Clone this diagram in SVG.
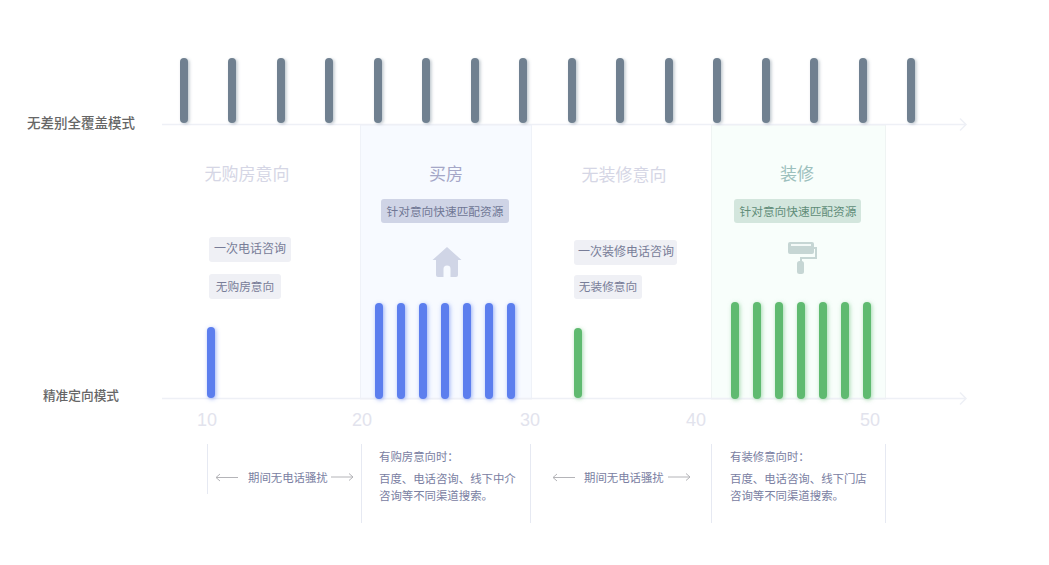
<svg xmlns="http://www.w3.org/2000/svg" width="1049" height="565" viewBox="0 0 1049 565">
<style>
text{font-family:"Liberation Sans","Noto Sans CJK SC",sans-serif}
.cjk{font-family:"Noto Sans CJK SC","Liberation Sans",sans-serif}
.axis{stroke:#eef0f6;stroke-width:1.5;fill:none}
.sep{stroke:#e6e9f2;stroke-width:1;fill:none}
.lab{font-weight:500;fill:#666;text-anchor:middle}
.h{font-size:17px;text-anchor:middle}
.tag{font-size:12px;text-anchor:middle}
.tag2{font-size:11.7px;text-anchor:middle}
.num{font-size:18px;fill:#e2e3ed;text-anchor:middle}
.note{font-size:11.4px;fill:#7a80a2}
.g{fill:#6f8090;filter:url(#sg)}
.b{fill:#5b7eee;filter:url(#sb)}
.n{fill:#5fba70;filter:url(#sn)}
.arr{stroke:#b4b4b8;stroke-width:1;fill:none}
</style>
<defs>
<filter id="sg" x="-100%" y="-10%" width="300%" height="120%"><feDropShadow dx="1.5" dy="1" stdDeviation="1.5" flood-color="#6f8090" flood-opacity=".45"/></filter>
<filter id="sb" x="-100%" y="-10%" width="300%" height="120%"><feDropShadow dx="1" dy="1" stdDeviation="2.200" flood-color="#5b7eee" flood-opacity=".6"/></filter>
<filter id="sn" x="-100%" y="-10%" width="300%" height="120%"><feDropShadow dx="1" dy="1" stdDeviation="2.200" flood-color="#5fba70" flood-opacity=".55"/></filter>
</defs>
<rect width="1049" height="565" fill="#fff"/>
<g id="band-buy"><rect x="360.500" y="125" width="171" height="274" fill="#f7faff" stroke="#eff2f8"/></g>
<g id="band-reno"><rect x="711.500" y="125" width="174" height="274" fill="#f8fefb" stroke="#eff4f3"/></g>
<g id="connectors">
<path class="axis" d="M162 124.500H966M960 118.500l6 6-6 6"/>
<path class="axis" d="M162 398.500H966M960 392.500l6 6-6 6"/>
<path class="sep" d="M207.500 444V494M361.500 444V523M530.500 444V523M711.500 444V523M885.500 444V523"/>
<path class="arr" d="M216 477.500H238M220 474l-4 3.500 4 3.500"/>
<path class="arr" d="M331 477H353M349 473.500l4 3.500-4 3.500"/>
<path class="arr" d="M553 477.500H575M557 474l-4 3.500 4 3.500"/>
<path class="arr" d="M668 477H690M686 473.500l4 3.500-4 3.500"/>
</g>
<g id="bars-all">
<rect class="g" x="180" y="58" width="8" height="65" rx="4"/>
<rect class="g" x="228" y="58" width="8" height="65" rx="4"/>
<rect class="g" x="277" y="58" width="8" height="65" rx="4"/>
<rect class="g" x="325" y="58" width="8" height="65" rx="4"/>
<rect class="g" x="374" y="58" width="8" height="65" rx="4"/>
<rect class="g" x="422" y="58" width="8" height="65" rx="4"/>
<rect class="g" x="471" y="58" width="8" height="65" rx="4"/>
<rect class="g" x="519" y="58" width="8" height="65" rx="4"/>
<rect class="g" x="568" y="58" width="8" height="65" rx="4"/>
<rect class="g" x="616" y="58" width="8" height="65" rx="4"/>
<rect class="g" x="665" y="58" width="8" height="65" rx="4"/>
<rect class="g" x="713" y="58" width="8" height="65" rx="4"/>
<rect class="g" x="762" y="58" width="8" height="65" rx="4"/>
<rect class="g" x="810" y="58" width="8" height="65" rx="4"/>
<rect class="g" x="859" y="58" width="8" height="65" rx="4"/>
<rect class="g" x="907" y="58" width="8" height="65" rx="4"/>
</g>
<g id="bars-buy">
<rect class="b" x="207" y="327" width="8" height="71" rx="4"/>
<rect class="b" x="375" y="303" width="8" height="96" rx="4"/>
<rect class="b" x="397" y="303" width="8" height="96" rx="4"/>
<rect class="b" x="419" y="303" width="8" height="96" rx="4"/>
<rect class="b" x="441" y="303" width="8" height="96" rx="4"/>
<rect class="b" x="463" y="303" width="8" height="96" rx="4"/>
<rect class="b" x="485" y="303" width="8" height="96" rx="4"/>
<rect class="b" x="507" y="303" width="8" height="96" rx="4"/>
</g>
<g id="bars-reno">
<rect class="n" x="574" y="328" width="8" height="70" rx="4"/>
<rect class="n" x="731" y="302" width="8" height="97" rx="4"/>
<rect class="n" x="753" y="302" width="8" height="97" rx="4"/>
<rect class="n" x="775" y="302" width="8" height="97" rx="4"/>
<rect class="n" x="797" y="302" width="8" height="97" rx="4"/>
<rect class="n" x="819" y="302" width="8" height="97" rx="4"/>
<rect class="n" x="841" y="302" width="8" height="97" rx="4"/>
<rect class="n" x="863" y="302" width="8" height="97" rx="4"/>
</g>
<g id="label-all"><text class="lab cjk" x="81" y="128" font-size="13.5">无差别全覆盖模式</text></g>
<g id="label-exact"><text class="lab cjk" x="81" y="400" font-size="12.7">精准定向模式</text></g>
<g id="stage-1">
<text class="h cjk" x="247" y="180" fill="#d5d6e5">无购房意向</text>
<rect x="209" y="237" width="82" height="25" rx="3" fill="#eff0f5"/>
<text class="tag cjk" x="250" y="253" fill="#787d98">一次电话咨询</text>
<rect x="209" y="274" width="72" height="25" rx="3" fill="#eff0f5"/>
<text class="tag2 cjk" x="245" y="291" fill="#787d98">无购房意向</text>
</g>
<g id="stage-2">
<text class="h cjk" x="446" y="180" fill="#a5a7c7">买房</text>
<rect x="381" y="199" width="128" height="24" rx="3" fill="#cfd4e6"/>
<text class="tag2 cjk" x="445" y="216" fill="#6f7795">针对意向快速匹配资源</text>
<path d="M447 247 461.500 260H458V275a2 2 0 0 1-2 2H438a2 2 0 0 1-2-2V260H432.500Z M443.500 277H450.500V269a3.500 3.500 0 0 0-7 0Z" fill="#d0d5e6" fill-rule="evenodd"/>
</g>
<g id="stage-3">
<text class="h cjk" x="624" y="181" fill="#d5d6e5">无装修意向</text>
<rect x="574" y="240" width="103" height="25" rx="3" fill="#eff0f5"/>
<text class="tag cjk" x="626" y="256" fill="#787d98">一次装修电话咨询</text>
<rect x="574" y="275" width="68" height="24" rx="3" fill="#eff0f5"/>
<text class="tag2 cjk" x="608" y="291" fill="#787d98">无装修意向</text>
</g>
<g id="stage-4">
<text class="h cjk" x="797" y="180" fill="#9cc0bd">装修</text>
<rect x="734" y="199" width="127" height="24" rx="3" fill="#d3e6dd"/>
<text class="tag2 cjk" x="798" y="216" fill="#5f8c78">针对意向快速匹配资源</text>
<rect x="788" y="242" width="26" height="12" rx="2" fill="#c6d6d4"/>
<path d="M814 248H816V258H801V262" fill="none" stroke="#c6d6d4" stroke-width="2"/>
<rect x="797" y="261" width="7" height="13" rx="2.500" fill="#c6d6d4"/>
<rect x="791" y="244" width="20" height="2" fill="#f4faf8"/>
</g>
<g id="ticks">
<text class="num" x="207" y="426">10</text>
<text class="num" x="362" y="426">20</text>
<text class="num" x="530" y="426">30</text>
<text class="num" x="696" y="426">40</text>
<text class="num" x="870" y="426">50</text>
</g>
<g id="note-1"><text class="note cjk" x="248" y="482">期间无电话骚扰</text></g>
<g id="note-2">
<text class="note cjk" x="379" y="461">有购房意向时：</text>
<text class="note cjk" x="379" y="483">百度、电话咨询、线下中介</text>
<text class="note cjk" x="379" y="500">咨询等不同渠道搜索。</text>
</g>
<g id="note-3"><text class="note cjk" x="584" y="482">期间无电话骚扰</text></g>
<g id="note-4">
<text class="note cjk" x="730" y="461">有装修意向时：</text>
<text class="note cjk" x="730" y="483">百度、电话咨询、线下门店</text>
<text class="note cjk" x="730" y="500">咨询等不同渠道搜索。</text>
</g>
</svg>
